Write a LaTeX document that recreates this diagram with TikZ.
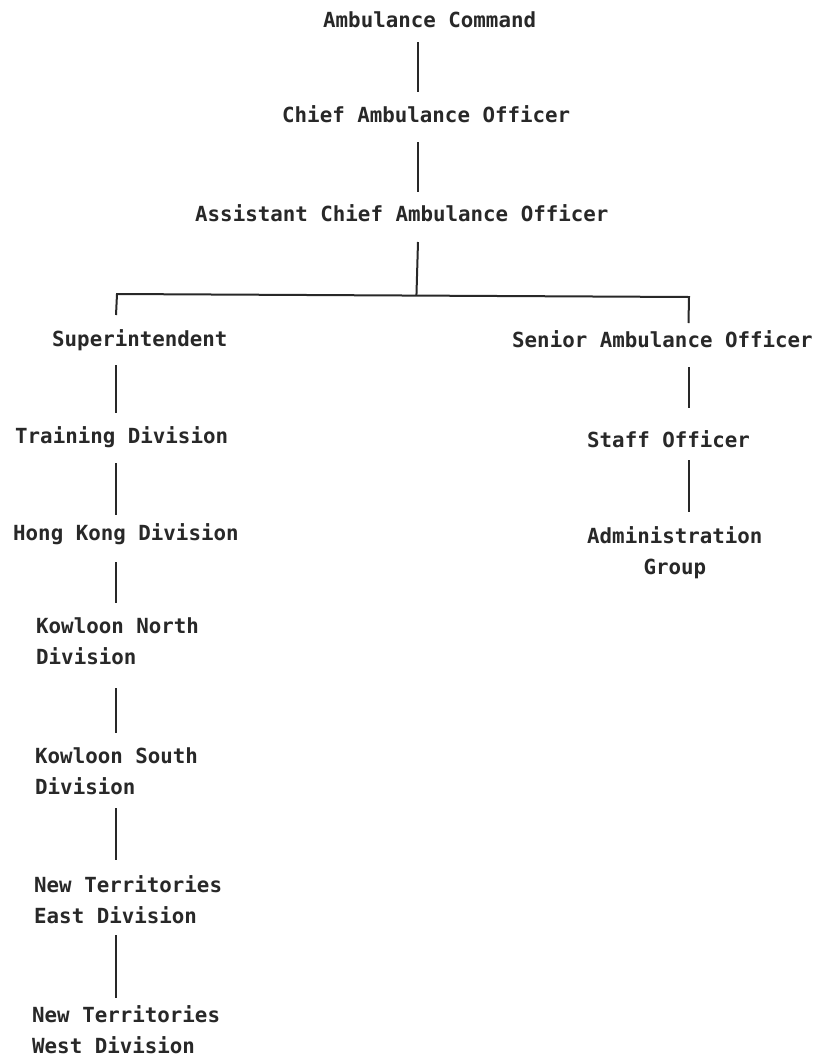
\documentclass[tikz,border=0pt]{standalone}
\usepackage{fontspec}
\setmonofont{DejaVu Sans Mono}
\usetikzlibrary{calc}
\definecolor{ink}{RGB}{40,40,40}
\newcommand\lblfont{\ttfamily\bfseries\fontsize{20.8}{31.5}\selectfont}
\tikzset{
  lbl/.style={inner sep=0pt, anchor=base west, font=\lblfont, text=ink},
  conn/.style={draw=ink, line width=2pt}
}
\begin{document}
\begin{tikzpicture}[x=1pt,y=-1pt]
\fill[white] (0,0) rectangle (820,1058);
\useasboundingbox (0,0) rectangle (820,1058);
% trunk x positions
\coordinate (tk) at (418,0);
\coordinate (tl) at (116,0);
\coordinate (tr) at (688.5,0);
\coordinate (busL) at (117,294);
\coordinate (busR) at (689,297);
% nodes
\node[lbl] (ac)    at (323,27)  {Ambulance Command};
\node[lbl] (cao)   at (282,122) {Chief Ambulance Officer};
\node[lbl] (acao)  at (195,221) {Assistant Chief Ambulance Officer};
\node[lbl] (sup)   at (52,346)  {Superintendent};
\node[lbl] (sao)   at (512,347) {Senior Ambulance Officer};
\node[lbl] (trn)   at (15,443)  {Training Division};
\node[lbl] (hk)    at (13,540)  {Hong Kong Division};
\node[lbl] (kn)    at (36,633)  {\begin{tabular}[t]{@{}l@{}}Kowloon North\\Division\end{tabular}};
\node[lbl] (ks)    at (35,763)  {\begin{tabular}[t]{@{}l@{}}Kowloon South\\Division\end{tabular}};
\node[lbl] (nte)   at (34,892)  {\begin{tabular}[t]{@{}l@{}}New Territories\\East Division\end{tabular}};
\node[lbl] (ntw)   at (32,1022) {\begin{tabular}[t]{@{}l@{}}New Territories\\West Division\end{tabular}};
\node[lbl] (staff) at (587,447) {Staff Officer};
\node[lbl] (admin) at (587,543) {\begin{tabular}[t]{@{}c@{}}Administration\\Group\end{tabular}};
% connectors
\draw[conn] ($(ac.base -| tk)+(0,15)$) -- ($(cao.base -| tk)+(0,-30)$);
\draw[conn] ($(cao.base -| tk)+(0,20)$) -- ($(acao.base -| tk)+(0,-29)$);
\draw[conn] ($(acao.base -| tk)+(0,21)$) -- ($(busL)!(tk)!(busR)$);
\draw[conn] ($(sup.base -| tl)+(0,-31)$) -- (busL) -- (busR) -- ($(sao.base -| tr)+(0,-24)$);
\draw[conn] ($(sup.base -| tl)+(0,19)$) -- ($(trn.base -| tl)+(0,-30)$);
\draw[conn] ($(trn.base -| tl)+(0,20)$) -- ($(hk.base -| tl)+(0,-25)$);
\draw[conn] ($(hk.base -| tl)+(0,22)$) -- ($(kn.base -| tl)+(0,-30)$);
\draw[conn] ($(kn.base -| tl)+(0,55)$) -- ($(ks.base -| tl)+(0,-30)$);
\draw[conn] ($(ks.base -| tl)+(0,45)$) -- ($(nte.base -| tl)+(0,-32)$);
\draw[conn] ($(nte.base -| tl)+(0,43)$) -- ($(ntw.base -| tl)+(0,-24)$);
\draw[conn] ($(sao.base -| tr)+(0,20)$) -- ($(staff.base -| tr)+(0,-39)$);
\draw[conn] ($(staff.base -| tr)+(0,13)$) -- ($(admin.base -| tr)+(0,-31)$);
\end{tikzpicture}
\end{document}
